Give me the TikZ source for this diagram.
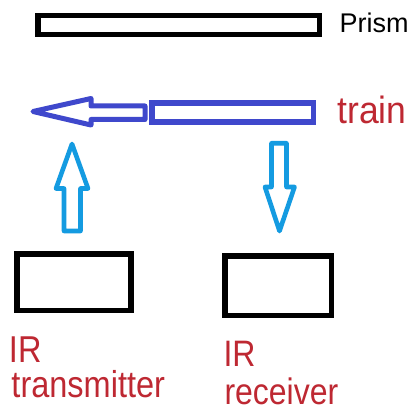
\documentclass[tikz,border=0pt]{standalone}
\usepackage{fontspec}
\setmainfont{Liberation Sans}
\definecolor{trainblue}{RGB}{63,72,204}
\definecolor{ircyan}{RGB}{20,155,225}
\definecolor{labelred}{RGB}{190,40,50}
\tikzset{
  blackbox/.style={draw=black, line width=5.6pt, fill=white, inner sep=0pt, outer sep=0pt},
  bluebox/.style={draw=trainblue, line width=5.2pt, fill=white, inner sep=0pt, outer sep=0pt},
  bluearrow/.style={draw=trainblue, line width=5pt, line join=round},
  cyanarrow/.style={draw=ircyan, line width=4.6pt, line join=round},
  lbl/.style={inner sep=0pt, outer sep=0pt, anchor=base west},
}
\begin{document}
\begin{tikzpicture}[x=1pt,y=-1pt]
\useasboundingbox[fill=white] (0,0) rectangle (415,414);
% prism
\node[blackbox, minimum width=281.5pt, minimum height=19pt] (prism) at (178.55,25) {};
\node[lbl, text=black] (prismlbl) at (339.7,32.3) {\fontsize{27}{30}\selectfont Prism};
% train
\node[bluebox, minimum width=161.3pt, minimum height=19pt] (train) at (232.65,112.5) {};
\draw[bluearrow] (33,111.5) -- (91,98.5) -- (91,106) -- (145,106) -- (145,119.5) -- (91,119.5) -- (91,125) -- cycle;
\node[lbl, text=labelred] (trainlbl) at (337.5,123.3) {\fontsize{35.5}{40}\selectfont\scalebox{1}[1.07]{train}};
% up arrow (transmitter)
\draw[cyanarrow] (72,144) -- (88,188.5) -- (80.5,188.5) -- (80.5,231) -- (64,231) -- (64,188.5) -- (56,188.5) -- cycle;
% down arrow (receiver)
\draw[cyanarrow] (271.5,143.3) -- (286.5,143.3) -- (286.5,187) -- (294.5,187) -- (279.5,231) -- (265,187) -- (271.5,187) -- cycle;
% IR boxes
\node[blackbox, minimum width=114pt, minimum height=56.8pt] (tx) at (74,282.1) {};
\node[blackbox, minimum width=106.8pt, minimum height=59.3pt] (rx) at (278.1,285.85) {};
% labels
\node[lbl, text=labelred] (txlbl1) at (9,362) {\fontsize{32.5}{36}\selectfont\scalebox{1}[1.15]{IR}};
\node[lbl, text=labelred] (txlbl2) at (11.5,397) {\fontsize{32.5}{36}\selectfont\scalebox{1}[1.15]{transmitter}};
\node[lbl, text=labelred] (rxlbl1) at (223.5,366) {\fontsize{32}{36}\selectfont\scalebox{1}[1.15]{IR}};
\node[lbl, text=labelred] (rxlbl2) at (224.5,404) {\fontsize{32}{36}\selectfont\scalebox{1}[1.15]{receiver}};
\end{tikzpicture}
\end{document}
